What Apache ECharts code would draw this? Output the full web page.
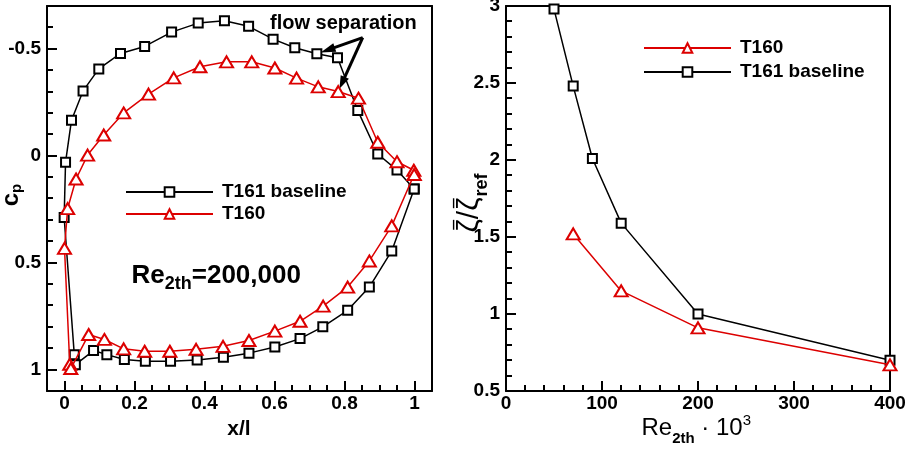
<!DOCTYPE html>
<html>
<head>
<meta charset="utf-8">
<script src="https://cdn.jsdelivr.net/npm/echarts@6/dist/echarts.min.js"></script>
<style>
  html, body { margin: 0; padding: 0; background: #fff; }
  #chart { width: 917px; height: 449px; }
</style>
</head>
<body>
<div id="chart"></div>
<script>
// ---- Pressure distribution around the profile, Re2th = 200,000 ----
// Each surface is stored as a closed loop: trailing edge -> suction side -> leading edge -> pressure side -> trailing edge
const t161X  = [0.999, 0.950, 0.895, 0.838, 0.780, 0.721, 0.658, 0.596, 0.526, 0.457, 0.382, 0.306, 0.229, 0.160, 0.098, 0.053, 0.020, 0.003, -0.001, 0.028, 0.031, 0.083, 0.121, 0.171, 0.231, 0.303, 0.379, 0.454, 0.527, 0.601, 0.673, 0.738, 0.809, 0.871, 0.935, 0.999];
const t161Cp = [0.156, 0.067, -0.008, -0.211, -0.458, -0.477, -0.505, -0.545, -0.605, -0.631, -0.620, -0.578, -0.511, -0.478, -0.406, -0.303, -0.166, 0.030, 0.289, 0.930, 0.977, 0.911, 0.930, 0.953, 0.961, 0.961, 0.955, 0.942, 0.923, 0.894, 0.855, 0.800, 0.723, 0.614, 0.445, 0.156];

const t160X  = [0.999, 0.998, 0.950, 0.895, 0.840, 0.782, 0.725, 0.663, 0.601, 0.535, 0.463, 0.387, 0.312, 0.240, 0.169, 0.112, 0.066, 0.033, 0.009, 0.000, 0.015, 0.018, 0.069, 0.114, 0.169, 0.229, 0.301, 0.376, 0.453, 0.527, 0.601, 0.673, 0.739, 0.809, 0.871, 0.935, 0.999];
const t160Cp = [0.088, 0.068, 0.028, -0.063, -0.269, -0.300, -0.322, -0.363, -0.410, -0.439, -0.439, -0.416, -0.364, -0.288, -0.200, -0.097, -0.003, 0.109, 0.247, 0.433, 0.975, 0.995, 0.836, 0.859, 0.903, 0.914, 0.914, 0.905, 0.891, 0.864, 0.820, 0.774, 0.703, 0.614, 0.492, 0.328, 0.088];

// ---- Normalised loss versus Reynolds number (Re2th / 1000) ----
const t161Re   = [50, 70, 90, 120, 200, 400];
const t161Loss = [2.98, 2.48, 2.01, 1.59, 1.00, 0.70];
const t160Re   = [70, 120, 200, 400];
const t160Loss = [1.52, 1.15, 0.91, 0.67];

// ---- Tick labels ----
const cpTicks   = [-0.5, 0, 0.5, 1];
const xlTicks   = [0, 0.2, 0.4, 0.6, 0.8, 1];
const reTicks   = [0, 100, 200, 300, 400];
const lossTicks = [0.5, 1, 1.5, 2, 2.5, 3];

// Suction-side points the "flow separation" arrows point at
const sepT161 = 5;   // index into t161X / t161Cp
const sepT160 = 5;   // index into t160X / t160Cp
const arrowTail = [0.852, -0.552];

const zip = (a, b) => a.map((v, i) => [v, b[i]]);

const FONT = "'Liberation Sans', Arial, Helvetica, sans-serif";
const BLACK = '#000000';
const RED = '#dc0000';

// axis ranges
const XL_RANGE = [-0.05, 1.05], CP_RANGE = [-0.7, 1.1];
const RE_RANGE = [0, 400], LOSS_RANGE = [0.5, 3];

// frame rectangles of the two panels
const GRID_L = { left: 47, top: 6, width: 385, height: 385 };
const GRID_R = { left: 506, top: 6, width: 384, height: 385 };

const chart = echarts.init(document.getElementById('chart'), null, { renderer: 'canvas' });

const tickFont = { color: BLACK, fontFamily: FONT, fontWeight: 'bold', fontSize: 19 };
const frameLine = { show: true, onZero: false, lineStyle: { color: BLACK, width: 2 } };
const fmt = v => String(+v.toFixed(2));
const gridBase = { show: false, containLabel: false, outerBoundsMode: 'none' };

function labelAxis(gridIndex, position, range, labels, margin, inverse) {
  return {
    type: 'value', gridIndex, position, min: range[0], max: range[1], inverse: !!inverse,
    axisLine: frameLine, axisTick: { show: false }, splitLine: { show: false },
    axisLabel: Object.assign({ customValues: labels, margin, formatter: fmt }, tickFont)
  };
}
// plain border axis (top / right edges of each frame)
function edgeAxis(gridIndex, position, range, inverse) {
  return {
    type: 'value', gridIndex, position, min: range[0], max: range[1], inverse: !!inverse,
    axisLine: frameLine, axisTick: { show: false }, axisLabel: { show: false }, splitLine: { show: false }
  };
}

function blackSeries(name, data, xi, yi) {
  return {
    name, type: 'line', data, xAxisIndex: xi, yAxisIndex: yi,
    symbol: 'emptyRect', symbolSize: 9,
    lineStyle: { color: BLACK, width: 1.5 },
    itemStyle: { color: BLACK, borderWidth: 1.5 },
    animation: false, silent: true, z: 3
  };
}
function redSeries(name, data, xi, yi) {
  return {
    name, type: 'line', data, xAxisIndex: xi, yAxisIndex: yi,
    symbol: 'emptyTriangle', symbolSize: [13, 11],
    lineStyle: { color: RED, width: 1.5 },
    itemStyle: { color: RED, borderWidth: 1.5 },
    animation: false, silent: true, z: 4
  };
}

const legendBase = {
  orient: 'vertical', selectedMode: false,
  itemWidth: 87, itemHeight: 12,
  textStyle: { color: BLACK, fontFamily: FONT, fontWeight: 'bold', fontSize: 19, lineHeight: 20, padding: [0, 0, 0, 4] }
};

chart.setOption({
  backgroundColor: '#ffffff',
  animation: false,
  grid: [Object.assign({}, GRID_L, gridBase), Object.assign({}, GRID_R, gridBase)],
  xAxis: [
    labelAxis(0, 'bottom', XL_RANGE, xlTicks, 3),
    labelAxis(1, 'bottom', RE_RANGE, reTicks, 3),
    edgeAxis(0, 'top', XL_RANGE),
    edgeAxis(1, 'top', RE_RANGE)
  ],
  yAxis: [
    labelAxis(0, 'left', CP_RANGE, cpTicks, 6, true),
    labelAxis(1, 'left', LOSS_RANGE, lossTicks, 6),
    edgeAxis(0, 'right', CP_RANGE, true),
    edgeAxis(1, 'right', LOSS_RANGE)
  ],
  legend: [
    Object.assign({ left: 120, top: 177, itemGap: 2, data: ['T161 baseline', 'T160'] }, legendBase),
    Object.assign({ left: 638, top: 33, itemGap: 4, data: ['T160', 'T161 baseline'] }, legendBase)
  ],
  series: [
    blackSeries('T161 baseline', zip(t161X, t161Cp), 0, 0),
    redSeries('T160', zip(t160X, t160Cp), 0, 0),
    redSeries('T160', zip(t160Re, t160Loss), 1, 1),
    blackSeries('T161 baseline', zip(t161Re, t161Loss), 1, 1)
  ]
});

// ---- Tick marks along the bottom and left edges, pointing into the frame ----
function steps(from, to, step, majors) {
  const out = [];
  const n = Math.round((to - from) / step);
  for (let i = 1; i < n; i++) {
    const v = +(from + i * step).toFixed(4);
    if (!majors.some(m => Math.abs(m - v) < 1e-9)) out.push(v);
  }
  return out;
}
// one polyline path per tick set: M x,y0 L x,y0-len for every tick
function tickPath(points) {
  return {
    type: 'polygon', silent: true, z: 50,
    shape: { points: points },
    style: { fill: BLACK }
  };
}
function bottomTicks(grid, range, values, len) {
  const y0 = grid.top + grid.height;
  return values.map(v => {
    const x = Math.round(grid.left + (v - range[0]) / (range[1] - range[0]) * grid.width);
    return tickPath([[x - 1, y0], [x + 1, y0], [x + 1, y0 - len], [x - 1, y0 - len]]);
  });
}
function leftTicks(grid, range, values, len, inverse) {
  const x0 = grid.left;
  return values.map(v => {
    let t = (v - range[0]) / (range[1] - range[0]);
    if (!inverse) t = 1 - t;
    const y = Math.round(grid.top + t * grid.height);
    return tickPath([[x0, y - 1], [x0 + len, y - 1], [x0 + len, y + 1], [x0, y + 1]]);
  });
}
const MAJOR = 10, MINOR = 6;
const tickGraphics = [].concat(
  bottomTicks(GRID_L, XL_RANGE, xlTicks, MAJOR),
  bottomTicks(GRID_L, XL_RANGE, steps(XL_RANGE[0], XL_RANGE[1], 0.05, xlTicks), MINOR),
  leftTicks(GRID_L, CP_RANGE, cpTicks, MAJOR, true),
  leftTicks(GRID_L, CP_RANGE, steps(CP_RANGE[0], CP_RANGE[1], 0.1, cpTicks), MINOR, true),
  bottomTicks(GRID_R, RE_RANGE, reTicks, MAJOR),
  bottomTicks(GRID_R, RE_RANGE, steps(RE_RANGE[0], RE_RANGE[1], 20, reTicks), MINOR),
  leftTicks(GRID_R, LOSS_RANGE, lossTicks, MAJOR, false),
  leftTicks(GRID_R, LOSS_RANGE, steps(LOSS_RANGE[0], LOSS_RANGE[1], 0.1, lossTicks), MINOR, false)
);

// ---- Text made of runs with different sizes (subscripts / superscripts / overbars) ----
const measureCtx = document.createElement('canvas').getContext('2d');
const fontStr = p => (p.bold ? 'bold ' : '') + p.size + 'px ' + FONT;

function composite(parts, x, y, rotation, anchor) {
  let cursor = 0;
  const children = [];
  parts.forEach(p => {
    measureCtx.font = fontStr(p);
    cursor += p.gap || 0;
    const w = measureCtx.measureText(p.text).width;
    const base = p.dy || 0;
    children.push({
      type: 'text', x: cursor, y: base - 0.3465 * p.size,
      style: { text: p.text, font: fontStr(p), fill: BLACK, align: 'left', verticalAlign: 'middle' }
    });
    if (p.overbar) {
      const yb = base - 0.88 * p.size;
      children.push({
        type: 'line', x: cursor,
        shape: { x1: w * 0.2, y1: yb, x2: w * 0.95, y2: yb },
        style: { stroke: BLACK, lineWidth: 1.4 }
      });
    }
    cursor += w;
  });
  const shift = anchor === 'center' ? -cursor / 2 : 0;
  children.forEach(c => { c.x += shift; });
  return { type: 'group', x, y, rotation: rotation || 0, silent: true, children };
}

function arrow(from, to, back, headLen, headW) {
  const dx = to[0] - from[0], dy = to[1] - from[1];
  const L = Math.hypot(dx, dy), ux = dx / L, uy = dy / L;
  const tip = [to[0] - ux * back, to[1] - uy * back];
  const base = [tip[0] - ux * headLen, tip[1] - uy * headLen];
  const nx = -uy, ny = ux;
  return [
    { type: 'line', silent: true, shape: { x1: from[0], y1: from[1], x2: base[0] + ux * 2, y2: base[1] + uy * 2 },
      style: { stroke: BLACK, lineWidth: 3 } },
    { type: 'polygon', silent: true,
      shape: { points: [tip, [base[0] + nx * headW, base[1] + ny * headW], [base[0] - nx * headW, base[1] - ny * headW]] },
      style: { fill: BLACK } }
  ];
}

const toPx = p => chart.convertToPixel({ xAxisIndex: 0, yAxisIndex: 0 }, p);
const tail = toPx(arrowTail);
const tipBlack = toPx([t161X[sepT161], t161Cp[sepT161]]);
const tipRed = toPx([t160X[sepT160], t160Cp[sepT160]]);

chart.setOption({
  graphic: [
    // axis titles
    composite([{ text: 'x/l', bold: true, size: 21 }], 239, 436.5, 0, 'center'),
    composite([{ text: 'c', bold: true, size: 24 }, { text: 'p', bold: true, size: 15, dy: 2 }], 20, 195, Math.PI / 2, 'center'),
    composite([
      { text: 'Re', size: 24 },
      { text: '2th', bold: true, size: 15, dy: 8 },
      { text: ' \u00B7 10', size: 24 },
      { text: '3', size: 15, dy: -10 }
    ], 641.5, 436.5, 0, 'left'),
    composite([
      { text: '\u03B6', size: 30, overbar: true },
      { text: '/', size: 30 },
      { text: '\u03B6', size: 30, overbar: true },
      { text: 'ref', bold: true, size: 18, dy: 8, gap: 1 }
    ], 480, 203, Math.PI / 2, 'center'),
    // annotations
    composite([
      { text: 'Re', bold: true, size: 26 },
      { text: '2th', bold: true, size: 18, dy: 6 },
      { text: '=200,000', bold: true, size: 26 }
    ], 131.5, 284.5, 0, 'left'),
    composite([{ text: 'flow separation', bold: true, size: 20 }], 270, 30.5, 0, 'left')
  ].concat(arrow(tail, tipBlack, 4, 15, 4.5), arrow(tail, tipRed, 3, 13, 4.5), tickGraphics)
});
</script>
</body>
</html>
